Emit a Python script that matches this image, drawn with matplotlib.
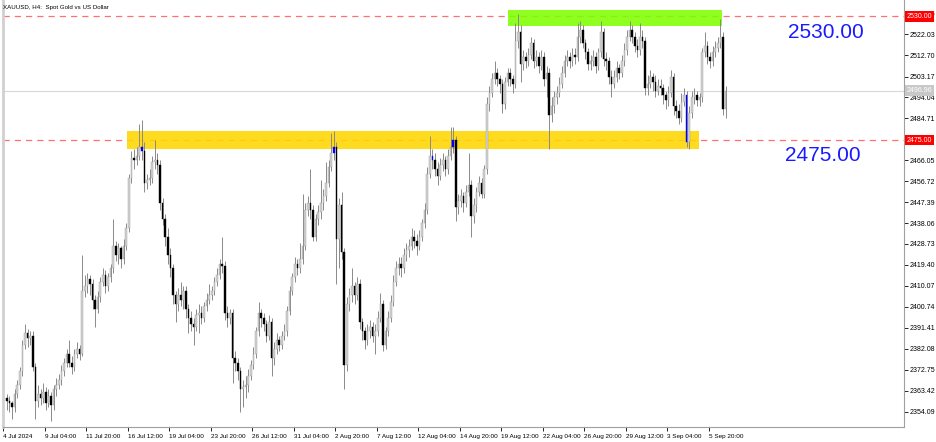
import numpy as np
import matplotlib
matplotlib.use("Agg")
import matplotlib.pyplot as plt
from matplotlib.patches import Rectangle
from matplotlib.transforms import blended_transform_factory

plt.rcParams["font.family"] = ["Liberation Sans", "DejaVu Sans"]

# ── data: XAUUSD H4 candles (open = previous close) ──────────────────────────
FIRST_OPEN = 2360.0
closes = [
    2359, 2358, 2356, 2362, 2366, 2372, 2384, 2389, 2387, 2388,
    2374, 2359, 2362, 2360, 2363, 2358, 2361, 2357, 2364, 2366,
    2368, 2372, 2376, 2380, 2376, 2374, 2380, 2382, 2380, 2408,
    2410, 2413, 2411, 2404, 2400, 2405, 2412, 2415, 2410, 2414,
    2418, 2428, 2424, 2427, 2422, 2428, 2436, 2458, 2467, 2466,
    2468, 2472, 2470, 2456, 2457, 2458, 2465, 2466, 2464, 2447,
    2440, 2432, 2424, 2418, 2406, 2402, 2406, 2404, 2408, 2400,
    2396, 2393, 2392, 2397, 2398, 2396, 2401, 2404, 2406, 2408,
    2412, 2415, 2420, 2419, 2398, 2396, 2398, 2378, 2376, 2372,
    2364, 2365, 2366, 2370, 2375, 2380, 2390, 2398, 2396, 2393,
    2388, 2394, 2378, 2382, 2386, 2384, 2388, 2390, 2399, 2408,
    2414, 2420, 2418, 2422, 2428, 2444, 2447, 2444, 2432, 2440,
    2443, 2447, 2450, 2456, 2463, 2469, 2472, 2431, 2446, 2425,
    2375, 2402, 2406, 2410, 2406, 2411, 2394, 2390, 2386, 2390,
    2392, 2388, 2390, 2396, 2402, 2384, 2390, 2396, 2403, 2412,
    2418, 2420, 2418, 2424, 2426, 2428, 2432, 2430, 2428, 2432,
    2438, 2444, 2460, 2468, 2466, 2462, 2459, 2464, 2466, 2462,
    2468, 2472, 2475, 2445, 2448, 2450, 2447, 2452, 2455, 2441,
    2446, 2452, 2456, 2451, 2462, 2491, 2496, 2502, 2505, 2502,
    2500, 2491, 2501, 2505, 2502, 2500, 2519, 2523, 2509, 2512,
    2510, 2513, 2518, 2510, 2512, 2508, 2512, 2502, 2505, 2486,
    2490, 2494, 2496, 2500, 2505, 2510, 2512, 2510, 2513, 2512,
    2521, 2524, 2518, 2514, 2509, 2510, 2512, 2508, 2514, 2523,
    2511, 2510, 2503, 2500, 2503, 2507, 2505, 2510, 2515, 2521,
    2524, 2521, 2517, 2515, 2521, 2519, 2498, 2500, 2503, 2501,
    2497, 2499, 2498, 2495, 2493, 2496, 2503, 2490, 2488, 2485,
    2492, 2495, 2474, 2487, 2494, 2495, 2493, 2494, 2514, 2517,
    2512, 2510, 2514, 2516, 2518, 2521, 2489, 2497,
]
highs = [
    2362, 2361, 2359, 2364, 2368, 2374, 2386, 2393, 2391, 2390,
    2390, 2376, 2366, 2364, 2367, 2365, 2364, 2363, 2366, 2369,
    2371, 2375, 2378, 2382, 2386, 2379, 2382, 2385, 2384, 2424,
    2415, 2416, 2415, 2413, 2406, 2408, 2414, 2418, 2417, 2416,
    2420, 2440, 2430, 2429, 2428, 2431, 2438, 2460, 2470, 2471,
    2472, 2482, 2484, 2474, 2460, 2462, 2468, 2475, 2469, 2466,
    2449, 2442, 2436, 2427, 2420, 2408, 2409, 2412, 2410, 2410,
    2402, 2399, 2396, 2400, 2402, 2401, 2403, 2407, 2411, 2410,
    2414, 2418, 2422, 2432, 2421, 2401, 2400, 2400, 2381, 2378,
    2374, 2368, 2370, 2373, 2377, 2383, 2392, 2403, 2400, 2398,
    2395, 2397, 2396, 2385, 2389, 2388, 2390, 2393, 2401, 2410,
    2416, 2423, 2422, 2429, 2451, 2447, 2450, 2462, 2446, 2442,
    2446, 2457, 2453, 2465, 2466, 2478, 2479, 2474, 2449, 2452,
    2427, 2405, 2409, 2418, 2412, 2414, 2413, 2396, 2392, 2393,
    2395, 2394, 2393, 2399, 2407, 2404, 2392, 2399, 2406, 2415,
    2421, 2423, 2423, 2427, 2429, 2431, 2436, 2435, 2433, 2435,
    2440, 2447, 2463, 2477, 2471, 2469, 2465, 2467, 2469, 2468,
    2471, 2481, 2481, 2477, 2451, 2453, 2452, 2455, 2469, 2457,
    2449, 2454, 2459, 2458, 2464, 2494, 2499, 2505, 2510, 2507,
    2504, 2502, 2503, 2507, 2507, 2504, 2527, 2531, 2526, 2515,
    2514, 2516, 2521, 2520, 2515, 2514, 2515, 2514, 2508, 2507,
    2494, 2497, 2499, 2503, 2508, 2513, 2515, 2514, 2516, 2516,
    2527, 2528, 2526, 2520, 2516, 2513, 2515, 2514, 2516, 2528,
    2525, 2514, 2512, 2506, 2506, 2510, 2509, 2513, 2518, 2524,
    2528, 2526, 2523, 2520, 2527, 2524, 2521, 2504, 2506, 2505,
    2504, 2502, 2502, 2500, 2497, 2499, 2506, 2505, 2493, 2491,
    2496, 2498, 2497, 2490, 2497, 2498, 2497, 2496, 2516, 2523,
    2519, 2514, 2517, 2519, 2521, 2529, 2523, 2499,
]
lows = [
    2355, 2354, 2351, 2354, 2360, 2364, 2370, 2382, 2383, 2384,
    2372, 2351, 2356, 2357, 2358, 2355, 2356, 2350, 2355, 2361,
    2364, 2366, 2370, 2374, 2374, 2371, 2372, 2378, 2377, 2379,
    2405, 2407, 2406, 2400, 2392, 2398, 2403, 2410, 2407, 2408,
    2412, 2416, 2421, 2420, 2418, 2420, 2426, 2434, 2456, 2462,
    2464, 2466, 2466, 2452, 2453, 2455, 2456, 2462, 2460, 2444,
    2437, 2428, 2420, 2414, 2402, 2394, 2399, 2401, 2400, 2396,
    2389, 2390, 2384, 2390, 2389, 2393, 2394, 2399, 2402, 2404,
    2406, 2410, 2413, 2416, 2395, 2392, 2393, 2367, 2372, 2368,
    2354, 2356, 2360, 2363, 2368, 2373, 2378, 2388, 2392, 2390,
    2385, 2386, 2370, 2375, 2380, 2381, 2382, 2386, 2388, 2397,
    2406, 2412, 2415, 2416, 2420, 2426, 2441, 2440, 2430, 2430,
    2437, 2440, 2444, 2448, 2454, 2461, 2466, 2411, 2418, 2422,
    2364, 2372, 2399, 2403, 2402, 2404, 2391, 2386, 2382, 2384,
    2387, 2385, 2380, 2388, 2394, 2381, 2382, 2388, 2394, 2401,
    2410, 2415, 2414, 2416, 2421, 2423, 2426, 2427, 2424, 2426,
    2430, 2436, 2442, 2458, 2462, 2459, 2455, 2457, 2461, 2459,
    2460, 2466, 2469, 2439, 2442, 2445, 2443, 2445, 2450, 2432,
    2438, 2443, 2450, 2449, 2449, 2460, 2488, 2494, 2500, 2499,
    2496, 2487, 2489, 2499, 2499, 2496, 2498, 2516, 2501, 2506,
    2507, 2508, 2511, 2507, 2508, 2505, 2506, 2499, 2494, 2471,
    2483, 2487, 2491, 2494, 2498, 2503, 2508, 2507, 2508, 2509,
    2510, 2518, 2516, 2511, 2506, 2506, 2508, 2505, 2506, 2512,
    2508, 2506, 2500, 2494, 2498, 2501, 2502, 2503, 2508, 2513,
    2519, 2518, 2514, 2512, 2513, 2516, 2495, 2495, 2498, 2497,
    2494, 2495, 2495, 2491, 2489, 2490, 2494, 2486, 2485, 2482,
    2483, 2490, 2472, 2471, 2485, 2491, 2490, 2490, 2492, 2512,
    2509, 2507, 2508, 2512, 2514, 2516, 2486, 2485,
]
highlight_bars = [52, 126, 164, 172, 262]

date_labels = ["4 Jul 2024", "9 Jul 04:00", "11 Jul 20:00", "16 Jul 12:00",
               "19 Jul 04:00", "23 Jul 20:00", "26 Jul 12:00", "31 Jul 04:00",
               "2 Aug 20:00", "7 Aug 12:00", "12 Aug 04:00", "14 Aug 20:00",
               "19 Aug 12:00", "22 Aug 04:00", "26 Aug 20:00", "29 Aug 12:00",
               "3 Sep 04:00", "5 Sep 20:00"]
BARS_PER_LABEL = 16

price_ticks = [2531.36, 2522.03, 2512.70, 2503.17, 2494.04, 2484.71, 2466.05,
               2456.72, 2447.39, 2438.06, 2428.73, 2419.40, 2410.07, 2400.74,
               2391.41, 2382.08, 2372.75, 2363.42, 2354.09]

RESISTANCE = 2530.00
SUPPORT = 2475.00
LAST_PRICE = 2496.96
res_zone = (2525.6, 2532.8, 193.3, 275.8)   # low, high, first bar, last bar
sup_zone = (2471.0, 2479.1, 46.4, 266.8)

# ── figure ───────────────────────────────────────────────────────────────────
W, H = 936, 442
fig = plt.figure(figsize=(W / 100, H / 100), dpi=100)
ax = fig.add_axes([3 / W, 15 / H, 901 / W, 427 / H])

closes = np.array(closes, float)
opens = np.concatenate([[FIRST_OPEN], closes[:-1]])
highs = np.array(highs, float)
lows = np.array(lows, float)
x = np.arange(len(closes))

ax.axhline(LAST_PRICE, color="#d8d8d8", lw=0.8, zorder=1)
for lvl in (RESISTANCE, SUPPORT):
    ax.axhline(lvl, color="#ff7070", lw=0.9, ls=(0, (5, 4)), zorder=1)

for (lo, hi, b0, b1), col in ((res_zone, "#7fff00"), (sup_zone, "#ffd700")):
    ax.add_patch(Rectangle((b0, lo), b1 - b0, hi - lo, facecolor=col,
                           edgecolor="none", alpha=0.88, zorder=2))

ax.vlines(x, lows, highs, color="#8a8a8a", lw=0.7, zorder=3)
up = closes >= opens
body_col = np.where(up, "#d4d4d4", "#000000").astype(object)
edge_col = np.where(up, "#9a9a9a", "#000000").astype(object)
for b in highlight_bars:
    body_col[b] = "#0000ff"
    edge_col[b] = "#0000ff"
bottom = np.minimum(opens, closes)
height = np.maximum(np.abs(closes - opens), 0.4)
ax.bar(x, height, bottom=bottom, width=0.62, color=list(body_col),
       edgecolor=list(edge_col), linewidth=0.3, zorder=4)

ax.set_xlim(-1.2, 345.8)
ax.set_ylim(2347.3, 2537.3)

# right price scale
ax.yaxis.tick_right()
ax.set_yticks(price_ticks)
ax.set_yticklabels([f"{p:.2f}" for p in price_ticks])
ax.tick_params(axis="y", length=3, width=0.6, pad=1, labelsize=5,
               colors="#000000")

xt = [k * BARS_PER_LABEL - 1.5 for k in range(len(date_labels))]
ax.set_xticks(xt)
ax.set_xticklabels(date_labels, ha="left")
ax.tick_params(axis="x", length=3, width=0.6, pad=2, labelsize=4.6)

ax.spines["top"].set_visible(False)
ax.spines["left"].set_color("#d0d0d0")
ax.spines["left"].set_linewidth(2)
ax.spines["right"].set_color("#a0a0a0")
ax.spines["bottom"].set_color("#a0a0a0")

# right-hand price tags
tr = blended_transform_factory(ax.transAxes, ax.transData)
for lvl, bg in ((RESISTANCE, "#ff0000"), (SUPPORT, "#ff0000"),
                (LAST_PRICE, "#c8c8c8")):
    ax.text(1.003, lvl, f"{lvl:.2f}", transform=tr, ha="left", va="center",
            fontsize=5, color="white", zorder=10, clip_on=False,
            bbox=dict(boxstyle="square,pad=0.25", fc=bg, ec="none"))

# big level annotations
ax.text(315.7, 2523.0, f"{RESISTANCE:.2f}", color="#1a1aff", fontsize=15,
        ha="center", va="center")
ax.text(314.5, 2468.3, f"{SUPPORT:.2f}", color="#1a1aff", fontsize=15,
        ha="center", va="center")

fig.text(3 / W, 1 - 8 / H, "XAUUSD, H4:  Spot Gold vs US Dollar",
         fontsize=4.4, ha="left", va="center")

fig.savefig("out.png", dpi=100)
